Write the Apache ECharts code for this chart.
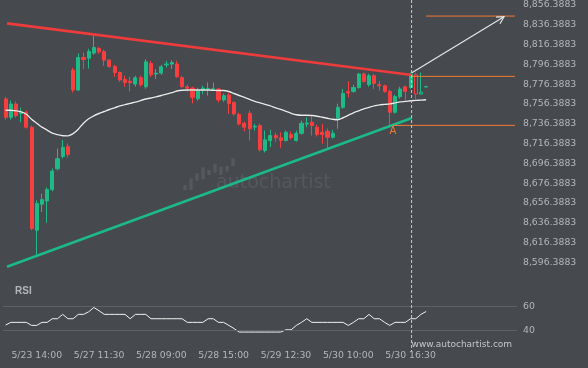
<!DOCTYPE html>
<html><head><meta charset="utf-8">
<script src="https://cdn.jsdelivr.net/npm/echarts@6/dist/echarts.min.js"></script>
<style>html,body{margin:0;padding:0;background:#46494e;}#c{width:588px;height:368px;}</style>
</head><body><div id="c"></div>
<script>
// ---- data ----
const BASE = 8596.3883;           // lowest price tick label
const N_SLOTS = 99;               // category slots incl. empty space on the right
const xLabelIndex = [6, 18, 30, 42, 54, 66, 78];
const xLabels = ['5/23 14:00', '5/27 11:30', '5/28 09:00', '5/28 15:00', '5/29 12:30', '5/30 10:00', '5/30 16:30'];
const nowIndex = 78;

// [open, close, low, high]
const candles = [
 [8761.5,8742.9,8740.6,8763.8],[8742.9,8756.4,8740.6,8759.9],[8756.4,8744.7,8742.6,8759.0],[8746.7,8748.7,8737.9,8752.7],
 [8748.0,8732.9,8731.6,8749.7],[8732.9,8630.6,8628.9,8734.6],[8628.9,8655.8,8603.7,8659.1],[8655.1,8659.8,8647.3,8665.8],
 [8658.4,8669.9,8636.3,8672.2],[8669.9,8688.6,8668.2,8691.3],[8691.0,8701.1,8689.3,8711.4],[8703.4,8712.7,8701.4,8720.2],
 [8713.4,8705.4,8702.4,8716.5],[8790.7,8770.5,8768.1,8793.0],[8770.5,8803.3,8769.8,8807.4],[8803.3,8801.3,8791.7,8808.4],
 [8802.7,8809.4,8792.3,8812.1],[8807.8,8813.4,8806.1,8825.2],[8812.4,8809.1,8807.1,8814.1],[8809.4,8800.7,8795.0,8811.1],
 [8800.7,8794.3,8793.0,8801.7],[8794.3,8788.2,8783.9,8796.0],[8788.2,8780.6,8778.9,8789.2],[8781.2,8778.2,8773.8,8784.9],
 [8779.4,8777.9,8769.1,8783.9],[8776.6,8782.9,8773.8,8784.9],[8782.9,8775.9,8773.8,8784.9],[8773.8,8799.0,8771.8,8801.7],
 [8797.3,8785.9,8783.9,8800.0],[8786.6,8787.6,8781.6,8791.7],[8787.6,8794.0,8785.9,8796.0],[8796.0,8796.8,8793.3,8800.0],
 [8796.7,8798.3,8791.7,8800.7],[8796.7,8783.9,8782.9,8800.0],[8783.2,8773.8,8772.8,8784.9],[8773.8,8772.3,8768.8,8775.9],
 [8772.5,8763.1,8757.0,8773.8],[8761.8,8770.5,8759.8,8772.8],[8769.8,8772.5,8766.5,8774.8],[8771.3,8772.1,8764.8,8778.2],
 [8771.1,8771.8,8769.8,8778.2],[8771.5,8760.5,8758.0,8772.8],[8760.5,8764.8,8758.7,8766.8],[8765.5,8757.0,8746.4,8767.8],
 [8758.0,8746.4,8744.7,8759.0],[8745.7,8736.3,8734.6,8747.7],[8736.9,8732.9,8728.8,8738.6],[8747.0,8731.3,8719.5,8749.7],
 [8733.1,8733.9,8729.6,8736.3],[8734.6,8710.1,8708.4,8736.6],[8709.4,8720.2,8707.4,8729.6],[8719.5,8724.5,8712.7,8730.3],
 [8724.5,8722.2,8717.8,8727.5],[8722.2,8719.5,8712.1,8727.8],[8719.5,8727.8,8718.5,8729.6],[8725.5,8722.5,8720.5,8728.5],
 [8719.5,8726.8,8718.5,8729.6],[8726.8,8736.9,8725.5,8739.6],[8736.1,8737.1,8732.9,8742.9],[8737.9,8734.6,8724.5,8744.7],
 [8732.9,8725.5,8723.5,8735.6],[8727.8,8725.5,8716.2,8736.3],[8728.8,8722.8,8712.1,8731.6],[8722.8,8726.8,8721.5,8730.3],
 [8741.6,8753.0,8731.3,8756.7],[8753.0,8767.1,8751.7,8771.5],[8768.8,8767.5,8763.1,8779.2],[8769.1,8773.1,8767.8,8775.9],
 [8773.1,8786.6,8771.8,8787.9],[8786.6,8779.2,8777.9,8788.2],[8775.9,8784.9,8773.8,8786.9],[8784.9,8777.2,8771.5,8786.6],
 [8775.9,8774.8,8769.8,8779.9],[8774.8,8769.1,8767.8,8775.9],[8769.1,8748.0,8734.6,8770.8],[8748.0,8763.8,8746.7,8765.8],
 [8763.8,8771.5,8761.8,8773.8],[8773.8,8769.1,8759.8,8775.1],[8773.1,8786.6,8771.8,8788.2],[8785.9,8766.5,8761.5,8787.9],
 [8766.5,8768.3,8765.8,8788.2],[8773.5,8774.1,8773.3,8774.3]
];
const hollowIndex = [79, 80];

const maValues = [
 8750,8750,8749.5,8748.5,8746,8741,8737,8733,8730,8727,8725.5,8724.3,8724.2,8726.5,8731,8737,8741.5,8744.5,8746.8,8748.8,
 8750.8,8752.5,8754.5,8755.7,8757,8758.3,8759.8,8761.4,8762.5,8763.6,8765,8766.3,8767.8,8769.5,8770.3,8770.5,8770.5,8770.5,
 8770.5,8770.5,8770.3,8770,8770,8769,8767,8765,8763,8761,8759,8757.5,8756,8754.5,8752.5,8751,8749,8747,8745.5,8745,8745,
 8744.7,8744,8743,8742,8741,8740.5,8742.5,8745,8747.5,8749.5,8751.5,8753,8754.5,8755.5,8756,8756.5,8757.5,8758.5,8759,
 8759.7,8760,8760.3,8760.7
];

const rsiValues = [
 44.4,46.6,46.6,46.6,46.6,44.1,44.1,46.6,46.6,49.6,49.6,53.2,49.6,49.6,53.2,53.2,55.3,58.9,56.2,53.2,
 53.2,53.2,53.2,53.2,49.6,53.2,53.2,53.2,49.6,49.6,49.6,49.6,49.6,49.6,49.6,46.6,46.6,46.6,46.6,49.6,
 49.6,46.6,46.6,44.1,41.5,38.6,38.6,38.6,38.6,38.6,38.6,38.6,38.6,38.6,40.5,40.5,44.1,46.6,49.6,46.6,
 46.6,46.6,46.6,46.6,46.6,46.6,44.1,46.6,49.6,49.6,53.2,49.6,49.6,46.6,44.1,46.6,46.6,46.6,49.6,49.6,
 53.2,55.6
];
const rsiLevels = [40, 60];

// pattern annotations: [slot position, price]
const resistanceTrend = [[0.27, 8837.8], [78.25, 8785.6]];
const supportTrend = [[0.27, 8591.9], [78.25, 8742.2]];
const resistanceLevel = [[78.25, 8784.3], [98.1, 8784.3]];
const supportLevel = [[74.6, 8734.8], [98.1, 8734.8]];
const targetLevel = [[81.0, 8845.2], [98.1, 8845.2]];
const forecastArrow = [[78.25, 8787.9], [96.0, 8844.5]];
const pointA = [74.6, 8734.8];

// ---- chart ----
const GREEN = '#1fbb86', RED = '#f83e3e', ORANGE = '#f47b30';
const FONT = 'DejaVu Sans';
const LABEL = '#b3b6ba';
const off = v => +(v - BASE).toFixed(4);
const offPts = pts => pts.map(p => [p[0], off(p[1])]);
function fmtPrice(v) {
  const s = (v + BASE).toFixed(4);
  const parts = s.split('.');
  return parts[0].replace(/\B(?=(\d{3})+(?!\d))/g, ',') + '.' + parts[1];
}
const cats = Array.from({length: N_SLOTS}, (_, i) => String(i));
const labelMap = {};
xLabelIndex.forEach((ix, k) => { labelMap[ix] = xLabels[k]; });

const candleData = candles.map((c, i) => {
  const v = [off(c[0]), off(c[1]), off(c[2]), off(c[3])];
  if (hollowIndex.indexOf(i) >= 0) {
    return {value: v, itemStyle: {color: 'rgba(0,0,0,0)', color0: 'rgba(0,0,0,0)'}};
  }
  return v;
});

function lineSeries(pts, color, width) {
  return {
    type: 'line', xAxisIndex: 1, yAxisIndex: 0, data: offPts(pts),
    showSymbol: false, symbol: 'none', silent: true,
    lineStyle: {color: color, width: width}, z: 4
  };
}

const chart = echarts.init(document.getElementById('c'), null, {renderer: 'canvas'});
const option = {
  backgroundColor: '#46494e',
  animation: false,
  grid: [
    {left: 3, right: 71, top: 5, height: 277.2},
    {left: 3, right: 71, top: 294, height: 48.5}
  ],
  xAxis: [
    {type: 'category', gridIndex: 0, data: cats, boundaryGap: true,
     axisLine: {show: false}, axisTick: {show: false}, axisLabel: {show: false}, splitLine: {show: false}},
    {type: 'value', gridIndex: 0, min: -0.5, max: N_SLOTS - 0.5, show: false},
    {type: 'category', gridIndex: 1, data: cats, boundaryGap: true,
     axisLine: {show: false}, axisTick: {show: false}, splitLine: {show: false},
     axisLabel: {
       interval: function (idx) { return labelMap[idx] !== undefined; },
       formatter: function (val, idx) { return labelMap[idx] || ''; },
       color: LABEL, fontFamily: FONT, fontSize: 9.3, margin: 9
     }}
  ],
  yAxis: [
    {type: 'value', gridIndex: 0, position: 'right', min: -20, max: 260, interval: 20,
     axisLine: {show: false}, axisTick: {show: false}, splitLine: {show: false},
     axisLabel: {formatter: fmtPrice, color: LABEL, fontFamily: FONT, fontSize: 9.3, align: 'left', margin: 6, showMinLabel: false}},
    {type: 'value', gridIndex: 1, position: 'right', min: 30, max: 70, interval: 10,
     axisLine: {show: false}, axisTick: {show: false}, splitLine: {show: false},
     axisLabel: {formatter: v => (rsiLevels.indexOf(v) >= 0 ? String(v) : ''), color: LABEL, fontFamily: FONT, fontSize: 9.3, align: 'left', margin: 6,
                 showMinLabel: false, showMaxLabel: false}}
  ],
  series: [
    {type: 'candlestick', xAxisIndex: 0, yAxisIndex: 0, data: candleData, barWidth: 3.6,
     itemStyle: {color: GREEN, color0: RED, borderColor: GREEN, borderColor0: RED, borderWidth: 1}, z: 3},
    {type: 'line', xAxisIndex: 0, yAxisIndex: 0, data: maValues.map(off), smooth: 0.3,
     showSymbol: false, symbol: 'none', lineStyle: {color: '#ececec', width: 1.4,
     shadowColor: 'rgba(0,0,0,0.35)', shadowBlur: 1}, z: 4},
    lineSeries(resistanceTrend, '#ee3b3b', 2.6),
    lineSeries(supportTrend, '#1cb98a', 2.6),
    lineSeries(resistanceLevel, ORANGE, 1),
    Object.assign(lineSeries(supportLevel, ORANGE, 1), {
      markPoint: {silent: true, symbol: 'circle', symbolSize: 0,
        data: [{coord: [pointA[0], off(pointA[1])], value: 'A'}],
        label: {show: true, position: 'bottom', distance: 1, formatter: 'A', color: ORANGE, fontFamily: FONT, fontSize: 10}}
    }),
    lineSeries(targetLevel, ORANGE, 1),
    lineSeries(forecastArrow, '#e6e6e6', 1.2),
    {type: 'line', xAxisIndex: 2, yAxisIndex: 1, data: rsiValues, showSymbol: false, symbol: 'none',
     lineStyle: {color: '#f2f2f2', width: 1}, z: 4,
     markLine: {silent: true, symbol: 'none', label: {show: false},
       lineStyle: {color: '#5e6166', width: 1, type: 'solid'},
       data: rsiLevels.map(v => ({yAxis: v}))}}
  ]
};
chart.setOption(option);

// decorations placed through the chart's own scale
const px = chart.convertToPixel({xAxisIndex: 0}, nowIndex) + 1;
const a0 = chart.convertToPixel({xAxisIndex: 1, yAxisIndex: 0}, offPts(forecastArrow)[0]);
const a1 = chart.convertToPixel({xAxisIndex: 1, yAxisIndex: 0}, offPts(forecastArrow)[1]);
const ang = Math.atan2(a1[1] - a0[1], a1[0] - a0[0]);
const headLen = 8, headSpread = 0.5;
const h1 = [a1[0] - headLen * Math.cos(ang - headSpread), a1[1] - headLen * Math.sin(ang - headSpread)];
const h2 = [a1[0] - headLen * Math.cos(ang + headSpread), a1[1] - headLen * Math.sin(ang + headSpread)];

const WM = '#55585d';
const logoBars = [[183.3,185,3.4,5],[189.3,178.3,3.4,11.7],[195.3,173.3,3.4,7.4],[201.3,167.3,3.4,12],[207.3,170,3.4,5],
                  [213.3,164,3.4,8.7],[219.3,166.7,3.4,8.3],[225.3,166,3.4,5.7],[231.3,158.3,3.4,7.7]];
const graphics = logoBars.map((b, k) => ({
  type: 'rect', id: 'logo' + k, z: 0, silent: true,
  shape: {x: b[0], y: b[1], width: b[2], height: b[3]}, style: {fill: WM}
}));
graphics.push({type: 'text', id: 'wm', z: 0, silent: true, left: 216, top: 174,
  style: {text: 'autochartist', fill: WM, font: '19px "DejaVu Sans"'}});
graphics.push({type: 'polyline', id: 'head', z: 50, silent: true,
  shape: {points: [h1, a1, h2]}, style: {stroke: '#e6e6e6', lineWidth: 1.2, fill: null}});
graphics.push({type: 'line', id: 'now', z: 100, silent: true,
  shape: {x1: px, y1: 0, x2: px, y2: 351},
  style: {stroke: '#c9c9c9', lineWidth: 1, lineDash: [3, 2]}});
graphics.push({type: 'text', id: 'rsi', z: 10, silent: true, left: 15, top: 286,
  style: {text: 'RSI', fill: LABEL, font: 'bold 10px "Liberation Sans"'}});
graphics.push({type: 'text', id: 'www', z: 10, silent: true, left: px, top: 340,
  style: {text: 'www.autochartist.com', fill: '#c4c7cb', font: '9px "DejaVu Sans"'}});
chart.setOption({graphic: graphics});
</script></body></html>
